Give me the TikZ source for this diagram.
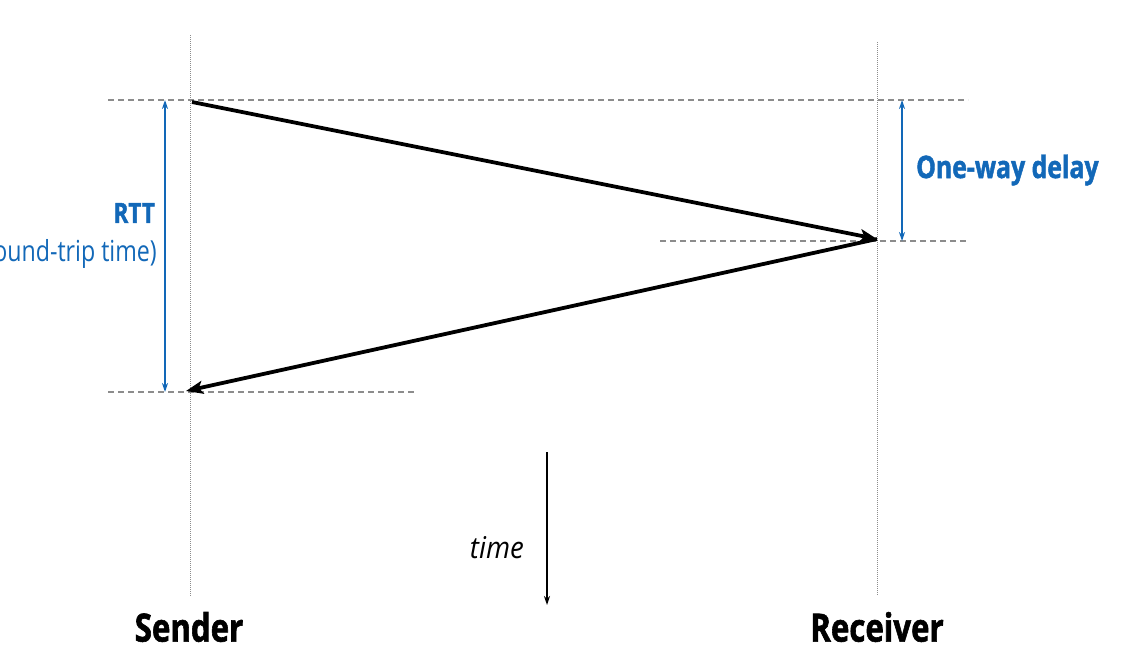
\documentclass[tikz,border=0pt]{standalone}
\usepackage{fontspec}
\setmainfont{Open Sans}[FakeStretch=0.8,BoldFeatures={FakeBold=1.5}]
\newfontfamily\timefont{Open Sans}[FakeStretch=0.92]
\usetikzlibrary{arrows.meta,positioning}
\definecolor{delayblue}{RGB}{18,104,184}
\definecolor{guidegray}{RGB}{140,140,140}

\begin{document}
\begin{tikzpicture}[x=1pt,y=-1pt,
  lifeline/.style={guidegray,densely dotted,line width=1pt},
  guide/.style={guidegray,dash pattern=on 6pt off 4pt,line width=1.4pt},
  msg/.style={-{Stealth[length=17pt,width=13pt,inset=4pt]},line width=3.8pt},
  span/.style={delayblue,line width=1.4pt,{Stealth[length=9pt,width=6pt]}-{Stealth[length=9pt,width=6pt]}},
  party/.style={font=\bfseries\fontsize{39}{43}\selectfont},
  bluelabel/.style={text=delayblue,inner sep=0pt}]
\useasboundingbox (0,0) rectangle (1123,653);

% lifelines
\coordinate (sender top) at (190,35);
\coordinate (sender end) at (190,596);
\coordinate (receiver top) at (877,42);
\coordinate (receiver end) at (877,596);
\draw[lifeline] (sender top) -- (sender end);
\draw[lifeline] (receiver top) -- (receiver end);

% time marks
\coordinate (t0 left) at (108,100);
\coordinate (t0 right) at (968,100);
\coordinate (t1 left) at (660,241);
\coordinate (t1 right) at (968,241);
\coordinate (t2 left) at (108,392);
\coordinate (t2 right) at (415,392);
\draw[guide] (t0 left) -- (t0 right);
\draw[guide] (t1 left) -- (t1 right);
\draw[guide] (t2 left) -- (t2 right);

% messages
\coordinate (send) at (192,102);
\coordinate (recv) at (877,239);
\coordinate (back) at (186,391);
\draw[msg] (send) -- (recv);
\draw[msg] (recv) -- (back);

% delays
\coordinate (rtt top) at (165,100);
\coordinate (rtt end) at (165,392);
\coordinate (owd top) at (902,100);
\coordinate (owd end) at (902,241);
\draw[span] (rtt top) -- (rtt end);
\draw[span] (owd top) -- (owd end);

\node[bluelabel,anchor=east,font=\bfseries\fontsize{28}{30}\selectfont] (rtt) at (155,213) {RTT};
\node[bluelabel,anchor=east,font=\fontsize{29}{31}\selectfont] (rtt note) at (157,254) {(round-trip time)};
\node[bluelabel,anchor=west,font=\bfseries\fontsize{31}{33}\selectfont] (owd) at (916,170) {One-way delay};

% time axis
\coordinate (time top) at (547,452);
\coordinate (time end) at (547,605);
\draw[-{Stealth[length=9pt,width=6pt]},line width=1.4pt] (time top) -- (time end);
\node[anchor=east,font=\timefont\itshape\fontsize{30}{32}\selectfont,inner sep=0pt] (time) at (524,548) {time};

\node[party] (sender) at (189,627) {Sender};
\node[party] (receiver) at (877,627) {Receiver};
\end{tikzpicture}
\end{document}
